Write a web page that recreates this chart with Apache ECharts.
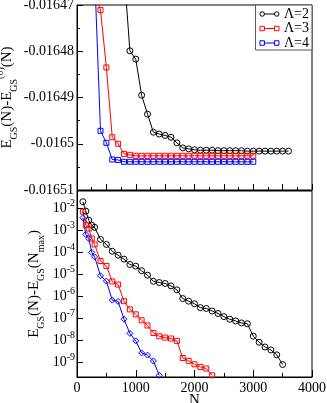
<!DOCTYPE html>
<html>
<head>
<meta charset="utf-8">
<script src="https://cdn.jsdelivr.net/npm/echarts@6/dist/echarts.min.js"></script>
<style>
html, body { margin: 0; padding: 0; background: #fff; }
#chart { width: 327px; height: 403px; }
</style>
</head>
<body>
<div id="chart"></div>
<script>
var names = ['Λ=2', 'Λ=3', 'Λ=4'];
var colors = ['#000000', '#ff0000', '#0000ff'];
var xTicks = [0, 1000, 2000, 3000, 4000];

// upper panel: E_GS(N) - E_GS^(0)(N)
var nTop2 = [800, 900, 1000, 1100, 1200, 1300, 1400, 1500, 1600, 1700, 1800, 1900, 2000, 2100,
    2200, 2300, 2400, 2500, 2600, 2700, 2800, 2900, 3000, 3100, 3200, 3300, 3400, 3500, 3600];
var eTop2 = [-0.0164625, -0.0164799, -0.0164817, -0.0164895, -0.0164936, -0.0164975, -0.0164979,
    -0.0164982, -0.0164986, -0.0164998, -0.0165009, -0.0165011, -0.0165013, -0.0165014, -0.0165014,
    -0.0165014, -0.0165015, -0.0165015, -0.0165015, -0.0165015, -0.0165015, -0.0165016, -0.0165016,
    -0.0165016, -0.0165016, -0.0165016, -0.0165016, -0.0165016, -0.0165016];

var nTop3 = [300, 400, 500, 600, 700, 800, 900, 1000, 1100, 1200, 1300, 1400, 1500, 1600, 1700,
    1800, 1900, 2000, 2100, 2200, 2300, 2400, 2500, 2600, 2700, 2800, 2900, 3000];
var eTop3 = [-0.0164674, -0.0164711, -0.0164835, -0.0164986, -0.0165000, -0.0165022, -0.0165024,
    -0.0165026, -0.0165026, -0.0165026, -0.0165026, -0.0165026, -0.0165026, -0.0165026, -0.0165026,
    -0.0165026, -0.0165026, -0.0165026, -0.0165026, -0.0165026, -0.0165026, -0.0165026, -0.0165026,
    -0.0165026, -0.0165026, -0.0165026, -0.0165026, -0.0165026];

var nTop4 = [300, 400, 500, 600, 700, 800, 900, 1000, 1100, 1200, 1300, 1400, 1500, 1600, 1700,
    1800, 1900, 2000, 2100, 2200, 2300, 2400, 2500, 2600, 2700, 2800, 2900, 3000];
var eTop4 = [-0.0164632, -0.0164972, -0.0164998, -0.0165034, -0.0165035, -0.0165039, -0.0165039,
    -0.0165039, -0.0165039, -0.0165039, -0.0165039, -0.0165039, -0.0165039, -0.0165039, -0.0165039,
    -0.0165039, -0.0165039, -0.0165039, -0.0165039, -0.0165039, -0.0165039, -0.0165039, -0.0165039,
    -0.0165039, -0.0165039, -0.0165039, -0.0165039, -0.0165039];

// lower panel: E_GS(N) - E_GS(N_max)
var nBot2 = [100, 150, 200, 250, 300, 400, 500, 600, 700, 800, 900, 1000, 1100, 1200, 1300, 1400,
    1500, 1600, 1700, 1800, 1900, 2000, 2100, 2200, 2300, 2400, 2500, 2600, 2700, 2800, 2900, 3000,
    3100, 3200, 3300, 3400, 3500];
var dBot2 = [2.04e-2, 7.6e-3, 2.95e-3, 1.74e-3, 1.38e-3, 3.9e-4, 2.3e-4, 1.12e-4, 7.4e-5, 4.9e-5,
    2.8e-5, 2.34e-5, 1.45e-5, 9.1e-6, 4.8e-6, 4.2e-6, 3.8e-6, 2.95e-6, 1.95e-6, 7.8e-7, 5.9e-7,
    4.5e-7, 3.0e-7, 2.75e-7, 2.1e-7, 1.62e-7, 1.17e-7, 8.9e-8, 7.4e-8, 6.0e-8, 5.5e-8, 1.5e-8,
    7.9e-9, 4.8e-9, 3.5e-9, 2.1e-9, 7.6e-10];

var nBot3 = [100, 150, 200, 250, 300, 400, 500, 600, 700, 800, 900, 1000, 1100, 1200, 1300, 1400,
    1500, 1600, 1700, 1800, 1900, 2000, 2100, 2200, 2300];
var dBot3 = [7.2e-3, 1.74e-3, 1.23e-3, 4.3e-4, 2.3e-4, 4.0e-5, 2.4e-5, 4.7e-6, 3.4e-6, 5.9e-7,
    2.5e-7, 1.48e-7, 7.9e-8, 4.6e-8, 2.1e-8, 1.48e-8, 1.29e-8, 1.17e-8, 9.1e-9, 1.51e-9, 1.12e-9,
    7.8e-10, 5.9e-10, 5.0e-10, 2.45e-10];

var nBot4 = [100, 150, 200, 250, 300, 400, 500, 600, 700, 800, 900, 1000, 1100, 1200, 1300, 1400];
var dBot4 = [3.8e-3, 6.6e-4, 4.3e-4, 1.0e-4, 6.2e-5, 8.5e-6, 4.9e-6, 6.6e-7, 5.75e-7, 8.9e-8,
    2.0e-8, 9.1e-9, 2.57e-9, 2.04e-9, 1.1e-9, 2.45e-10];

var font = 'Liberation Serif';

function pairs(xs, ys) {
    return xs.map(function (x, i) { return [x, ys[i]]; });
}

function makeSeries(name, idx, xs, ys, symbol, size, color) {
    return {
        name: name,
        type: 'line',
        xAxisIndex: idx,
        yAxisIndex: idx,
        data: pairs(xs, ys),
        symbol: symbol,
        symbolSize: size,
        showAllSymbol: true,
        lineStyle: { color: color, width: 1 },
        itemStyle: { color: 'rgba(0,0,0,0)', borderColor: color, borderWidth: 1 },
        emphasis: { disabled: true },
        z: 3
    };
}

var circleIcon = 'path://M1,3a2,2 0 1,0 4,0a2,2 0 1,0 -4,0M5,3L14,3M14,3a2,2 0 1,0 4,0a2,2 0 1,0 -4,0';
var squareIcon = 'path://M1,1h4v4h-4ZM5,3L14,3M14,1h4v4h-4Z';

var chart = echarts.init(document.getElementById('chart'));

var axisText = { color: '#000', fontFamily: font, fontSize: 14 };
var rich = {
    a: { fontFamily: font, fontSize: 15, color: '#000', lineHeight: 24, verticalAlign: 'middle' },
    s: { fontFamily: font, fontSize: 10, color: '#000', lineHeight: 9, verticalAlign: 'bottom' },
    p: { fontFamily: font, fontSize: 10, color: '#000', lineHeight: 9, verticalAlign: 'top' }
};

var option = {
    animation: false,
    backgroundColor: '#fff',
    textStyle: { fontFamily: font },
    legend: {
        orient: 'vertical',
        right: 15,
        top: 5,
        padding: [2, 3, 0, 4],
        itemGap: 0.5,
        itemWidth: 19,
        itemHeight: 6,
        itemTextGap: 4,
        borderColor: '#555',
        borderWidth: 1,
        borderRadius: 0,
        backgroundColor: '#fff',
        selectedMode: false,
        textStyle: { color: '#000', fontFamily: font, fontSize: 14, lineHeight: 14 },
        data: names.map(function (n, i) {
            return {
                name: n,
                icon: i === 0 ? circleIcon : squareIcon,
                itemStyle: { color: 'rgba(0,0,0,0)', borderColor: colors[i], borderWidth: 1 }
            };
        })
    },
    grid: [
        { left: 77, right: 15, top: 5, height: 185, show: true, borderColor: '#000', borderWidth: 1,
          backgroundColor: 'rgba(0,0,0,0)', outerBoundsMode: 'none' },
        { left: 77, right: 15, top: 191, height: 186, show: true, borderColor: '#000', borderWidth: 1,
          backgroundColor: 'rgba(0,0,0,0)', outerBoundsMode: 'none' }
    ],
    xAxis: [
        {
            type: 'value', gridIndex: 0, min: 0, max: 4000, interval: 500,
            axisLine: { show: true, lineStyle: { color: '#000', width: 1 } },
            axisTick: { show: true, inside: true, length: 6, lineStyle: { color: '#000' } },
            minorTick: { show: true, splitNumber: 2, length: 3, lineStyle: { color: '#000' } },
            axisLabel: { show: false },
            splitLine: { show: false }
        },
        {
            type: 'value', gridIndex: 1, min: xTicks[0], max: xTicks[xTicks.length - 1], interval: 1000,
            name: 'N', nameLocation: 'middle', nameGap: 16, nameMoveOverlap: false,
            nameTextStyle: { color: '#000', fontFamily: font, fontSize: 15 },
            axisLine: { show: true, lineStyle: { color: '#000', width: 1 } },
            axisTick: { show: true, inside: true, length: 7, lineStyle: { color: '#000' } },
            minorTick: { show: true, splitNumber: 2, length: 4, lineStyle: { color: '#000' } },
            axisLabel: Object.assign({
                margin: 4,
                formatter: function (v) { return String(v); }
            }, axisText),
            splitLine: { show: false }
        }
    ],
    yAxis: [
        {
            type: 'value', gridIndex: 0, min: -0.01651, max: -0.01647, interval: 0.00001,
            name: '{a|E}{s|GS}{a|(N)-E}{s|GS}{p|(0)}{a|(N)}',
            nameLocation: 'middle', nameGap: 58, nameRotate: 90, nameMoveOverlap: false,
            nameTextStyle: { rich: rich },
            axisLine: { show: true, lineStyle: { color: '#000', width: 1 } },
            axisTick: { show: true, inside: true, length: 6, lineStyle: { color: '#000' } },
            minorTick: { show: true, splitNumber: 2, length: 3, lineStyle: { color: '#000' } },
            axisLabel: Object.assign({
                margin: 3,
                formatter: function (v) { return String(parseFloat(v.toFixed(5))); }
            }, axisText),
            splitLine: { show: false }
        },
        {
            type: 'log', logBase: 10, gridIndex: 1, min: 2.05e-10, max: 6.3e-2, splitNumber: 8,
            name: '{a|E}{s|GS}{a|(N)-E}{s|GS}{a|(N}{s|max}{a|)}',
            nameLocation: 'middle', nameGap: 31, nameRotate: 90, nameMoveOverlap: false,
            nameTextStyle: { rich: rich },
            axisLine: { show: true, lineStyle: { color: '#000', width: 1 } },
            axisTick: { show: true, inside: true, length: 6, lineStyle: { color: '#000' } },
            axisLabel: {
                margin: 2,
                showMinLabel: false,
                showMaxLabel: false,
                formatter: function (v) {
                    return '{b|10}{e|' + Math.round(Math.log10(v)) + '}';
                },
                rich: {
                    b: { fontFamily: font, fontSize: 14, color: '#000', lineHeight: 20, verticalAlign: 'middle' },
                    e: { fontFamily: font, fontSize: 10, color: '#000', lineHeight: 10, verticalAlign: 'top' }
                }
            },
            splitLine: { show: false }
        }
    ],
    series: [
        makeSeries(names[0], 0, nTop2, eTop2, 'circle', 6, colors[0]),
        makeSeries(names[1], 0, nTop3, eTop3, 'rect', 5, colors[1]),
        makeSeries(names[2], 0, nTop4, eTop4, 'rect', 5, colors[2]),
        makeSeries(names[0], 1, nBot2, dBot2, 'circle', 6, colors[0]),
        makeSeries(names[1], 1, nBot3, dBot3, 'rect', 5, colors[1]),
        makeSeries(names[2], 1, nBot4, dBot4, 'diamond', 6, colors[2])
    ]
};

chart.setOption(option);
</script>
</body>
</html>
